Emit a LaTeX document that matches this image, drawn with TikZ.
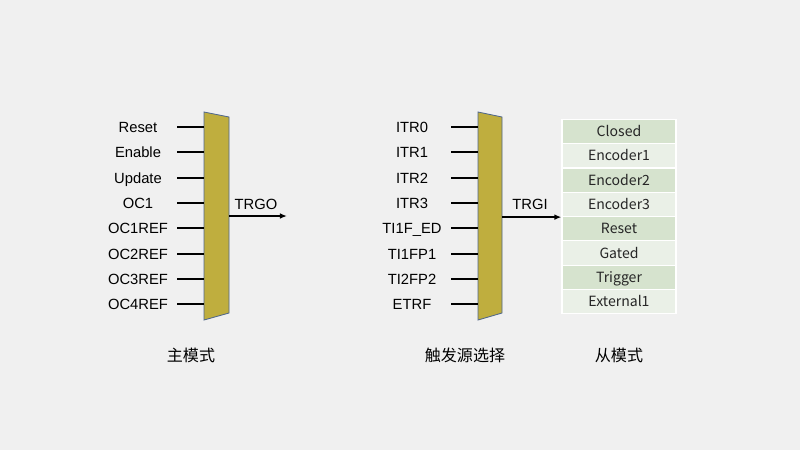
\documentclass[tikz,border=0pt]{standalone}
\usepackage{fontspec}
\setmainfont{Liberation Sans}
\newfontfamily\cjkfont{Noto Sans CJK SC}
\definecolor{bgray}{RGB}{240,240,240}
\definecolor{muxolive}{RGB}{191,174,62}
\definecolor{muxedge}{RGB}{79,103,140}
\definecolor{rowdark}{RGB}{214,227,206}
\definecolor{rowlight}{RGB}{234,240,231}
\usetikzlibrary{arrows.meta,positioning,calc}

\begin{document}
\begin{tikzpicture}[x=0.025cm, y=-0.025cm,
    sigin/.style={text width=1.95cm, inner xsep=0pt, align=center,
                  text height=8pt, text depth=0.5pt,
                  font=\fontsize{10.5}{12}\selectfont},
    inln/.style={line width=1.4pt, black},
    mux/.style={fill=muxolive, draw=muxedge, line width=0.6pt},
    outarr/.style={-{Latex[length=5pt,width=4pt]}, line width=1pt, black},
    sel/.style={font=\fontsize{10.5}{12}\selectfont},
    cell/.style={rectangle, draw=white, line width=0.8pt, minimum width=2.85cm,
                 minimum height=0.6075cm, inner sep=0pt, text=black!85,
                 text height=8pt, text depth=0.7pt,
                 font=\cjkfont\fontsize{10}{12}\selectfont},
    caption/.style={font=\cjkfont\fontsize{11.4}{13}\selectfont}
  ]
  \fill[bgray] (0,0) rectangle (800,450);

  % master mode mux
  \draw[mux] (204,112) coordinate (ma-nw) -- (229,117) coordinate (ma-ne)
    -- (229,313) coordinate (ma-se) -- (204,320) coordinate (ma-sw) -- cycle;
  \node[sigin] (m0) at (138,127) {Reset};
  \node[sigin] (m1) at (138,152) {Enable};
  \node[sigin] (m2) at (138,178) {Update};
  \node[sigin] (m3) at (138,203) {OC1};
  \node[sigin] (m4) at (138,228) {OC1REF};
  \node[sigin] (m5) at (138,254) {OC2REF};
  \node[sigin] (m6) at (138,279) {OC3REF};
  \node[sigin] (m7) at (138,304) {OC4REF};
  \draw[inln] (m0.east) -- (m0.east -| ma-nw);
  \draw[inln] (m1.east) -- (m1.east -| ma-nw);
  \draw[inln] (m2.east) -- (m2.east -| ma-nw);
  \draw[inln] (m3.east) -- (m3.east -| ma-nw);
  \draw[inln] (m4.east) -- (m4.east -| ma-nw);
  \draw[inln] (m5.east) -- (m5.east -| ma-nw);
  \draw[inln] (m6.east) -- (m6.east -| ma-nw);
  \draw[inln] (m7.east) -- (m7.east -| ma-nw);
  \coordinate (ma-out) at (229,216);
  \coordinate (trgo-end) at (287,216);
  \draw[outarr] (ma-out) -- (trgo-end);
  \node[sel] (trgo) at (256,204) {TRGO};

  % trigger selection mux
  \draw[mux] (478,112) coordinate (mb-nw) -- (502,117) coordinate (mb-ne)
    -- (502,313) coordinate (mb-se) -- (478,320) coordinate (mb-sw) -- cycle;
  \node[sigin] (s0) at (412,127) {ITR0};
  \node[sigin] (s1) at (412,152) {ITR1};
  \node[sigin] (s2) at (412,178) {ITR2};
  \node[sigin] (s3) at (412,203) {ITR3};
  \node[sigin] (s4) at (412,228) {TI1F\_ED};
  \node[sigin] (s5) at (412,254) {TI1FP1};
  \node[sigin] (s6) at (412,279) {TI2FP2};
  \node[sigin] (s7) at (412,304) {ETRF};
  \draw[inln] (s0.east) -- (s0.east -| mb-nw);
  \draw[inln] (s1.east) -- (s1.east -| mb-nw);
  \draw[inln] (s2.east) -- (s2.east -| mb-nw);
  \draw[inln] (s3.east) -- (s3.east -| mb-nw);
  \draw[inln] (s4.east) -- (s4.east -| mb-nw);
  \draw[inln] (s5.east) -- (s5.east -| mb-nw);
  \draw[inln] (s6.east) -- (s6.east -| mb-nw);
  \draw[inln] (s7.east) -- (s7.east -| mb-nw);
  \node[sel] (trgi) at (530,204) {TRGI};

  % slave mode table
  \node[cell, fill=rowdark]  (t0) at (619,131.5) {Closed};
  \node[cell, fill=rowlight] (t1) at (619,155.8) {Encoder1};
  \node[cell, fill=rowdark]  (t2) at (619,180.1) {Encoder2};
  \node[cell, fill=rowlight] (t3) at (619,204.4) {Encoder3};
  \node[cell, fill=rowdark]  (t4) at (619,228.7) {Reset};
  \node[cell, fill=rowlight] (t5) at (619,253.0) {Gated};
  \node[cell, fill=rowdark]  (t6) at (619,277.3) {Trigger};
  \node[cell, fill=rowlight] (t7) at (619,301.6) {External1};
  \draw[outarr] (mb-ne |- t3.south) -- (t3.south west);

  \node[caption] (cap1) at (191,355) {主模式};
  \node[caption] (cap2) at (465,355) {触发源选择};
  \node[caption] (cap3) at (619,355) {从模式};
\end{tikzpicture}
\end{document}
